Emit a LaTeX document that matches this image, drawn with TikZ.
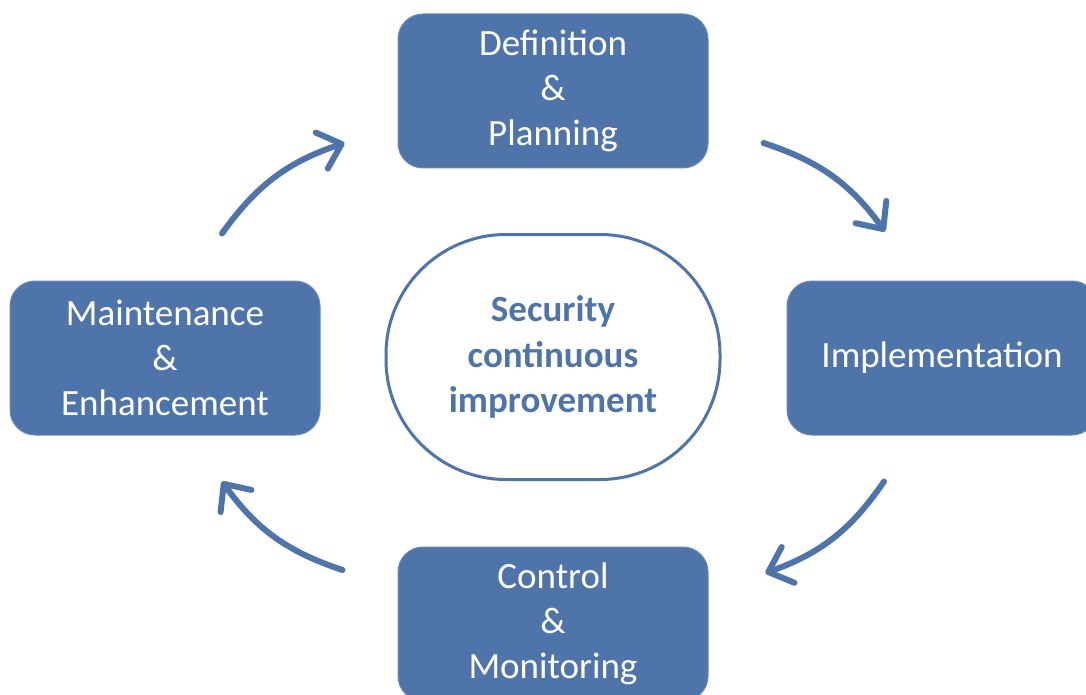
\documentclass[tikz,border=0pt]{standalone}
\usepackage{fontspec}
\setmainfont{Carlito}
\usetikzlibrary{arrows.meta,calc}
\definecolor{boxblue}{RGB}{79,116,170}
\begin{document}
\begin{tikzpicture}[x=1pt,y=-1pt,
  stagebox/.style={rectangle,rounded corners=25pt,fill=boxblue,draw=boxblue!85!white,line width=1pt,
    minimum width=310pt,minimum height=154pt,inner sep=0pt,align=center,text=white,
    font=\fontsize{37}{45}\selectfont},
  hubbox/.style={rectangle,rounded corners=120pt,draw=boxblue,line width=3pt,fill=white,
    minimum width=334pt,minimum height=245pt,inner sep=0pt,align=center,text=boxblue,
    font=\fontsize{37}{45.5}\selectfont\bfseries},
  cyc/.style={draw=boxblue,line width=6pt,line cap=round,
    -{Straight Barb[length=21pt,width=38pt,round]}}]
\useasboundingbox (0,0) rectangle (1086,695);
\node[stagebox] (top) at (553,91) {Definition\\\&\\Planning};
\node[stagebox] (rgt) at (942,358) {Implementation};
\node[stagebox] (bot) at (553,624) {Control\\\&\\Monitoring};
\node[stagebox] (lft) at (165,358) {Maintenance\\\&\\Enhancement};
\node[hubbox] (hub) at (553,357) {Security\\continuous\\improvement};
\coordinate (a1s) at ($(lft.north)+(57,-47)$);
\coordinate (a1e) at ($(top.west)+(-53,52)$);
\coordinate (a2s) at ($(top.east)+(55,52)$);
\coordinate (a2e) at ($(rgt.north)+(-57,-49)$);
\coordinate (a3s) at ($(rgt.south)+(-58,46)$);
\coordinate (a3e) at ($(bot.east)+(57,-51)$);
\coordinate (a4s) at ($(bot.west)+(-55,-54)$);
\coordinate (a4e) at ($(lft.south)+(57,46)$);
\draw[cyc] (a1s) to[bend left=18] (a1e);
\draw[cyc] (a2s) to[bend left=18] (a2e);
\draw[cyc] (a3s) to[bend left=18] (a3e);
\draw[cyc] (a4s) to[bend left=18] (a4e);
\end{tikzpicture}
\end{document}
